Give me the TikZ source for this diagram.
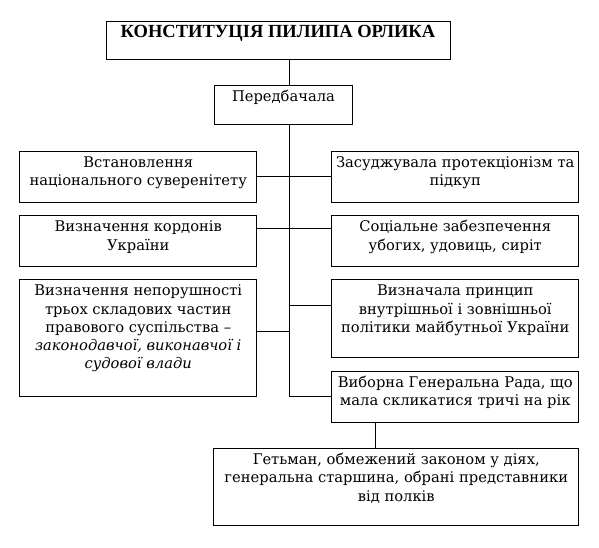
\documentclass[tikz,border=0pt]{standalone}
\usepackage{fontspec}
\setmainfont{DejaVu Serif}
\newfontfamily\titlefont{Liberation Serif}
\usetikzlibrary{positioning}

% text at the top of a box of given width and height
\newcommand{\toptext}[3]{\parbox[c][#2][t]{#1}{\centering\fontsize{14.7}{18.3}\selectfont\rule{0pt}{16pt}#3}}

\begin{document}
\begin{tikzpicture}[x=1pt,y=-1pt,
    blok/.style={draw, line width=0.9pt, anchor=north west, inner sep=0pt},
    zv/.style={line width=0.9pt}]
    \useasboundingbox (0,0) rectangle (599,548);

    \node[blok] (konst) at (105.5,20.7) {\toptext{344pt}{38.6pt}{\titlefont\fontsize{18.5}{20}\selectfont\bfseries КОНСТИТУЦІЯ ПИЛИПА ОРЛИКА}};
    \node[blok] (pered) at (213.7,85.3) {\toptext{138.6pt}{39pt}{Передбачала}};

    % ліва колонка
    \node[blok] (l1) at (19.3,150.7) {\toptext{237pt}{51.6pt}{Встановлення\\національного суверенітету}};
    \node[blok] (l2) at (19.3,215.3) {\toptext{237pt}{50.7pt}{Визначення кордонів\\України}};
    \node[blok] (l3) at (19.3,279.3) {\toptext{237pt}{116.7pt}{Визначення непорушності\\трьох складових частин\\правового суспільства –\\\textit{законодавчої, виконавчої і}\\\textit{судової влади}}};

    % права колонка
    \node[blok] (r1) at (331.3,150.7) {\toptext{247pt}{51.6pt}{Засуджувала протекціонізм та\\підкуп}};
    \node[blok] (r2) at (331.3,215.3) {\toptext{247pt}{50.7pt}{Соціальне забезпечення\\убогих, удовиць, сиріт}};
    \node[blok] (r3) at (331.3,279.3) {\toptext{247pt}{77.7pt}{Визначала принцип\\внутрішньої і зовнішньої\\політики майбутньої України}};
    \node[blok] (r4) at (331.3,370.7) {\toptext{247pt}{51.3pt}{Виборна Генеральна Рада, що\\мала скликатися тричі на рік}};

    \node[blok] (niz) at (213.3,448) {\toptext{365pt}{77pt}{Гетьман, обмежений законом у діях,\\генеральна старшина, обрані представники\\від полків}};

    % точки на стовбурі
    \coordinate (st) at (289,0);
    \coordinate (j1) at (289,176);
    \coordinate (j2) at (289,228.5);
    \coordinate (j3) at (289,305);
    \coordinate (j4) at (289,331);
    \coordinate (j5) at (375,0);

    \draw[zv] (konst.south -| st) -- (pered.north -| st);
    \draw[zv] (pered.south -| st) |- (r4.west);
    \draw[zv] (l1.east |- j1) -- (r1.west |- j1);
    \draw[zv] (l2.east |- j2) -- (r2.west |- j2);
    \draw[zv] (j3) -- (r3.west |- j3);
    \draw[zv] (l3.east |- j4) -- (j4);
    \draw[zv] (r4.south -| j5) -- (niz.north -| j5);
\end{tikzpicture}
\end{document}
